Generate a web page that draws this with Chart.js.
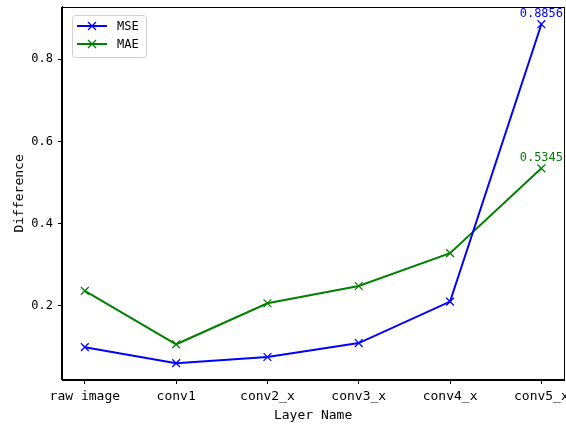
<!DOCTYPE html>
<html>
<head>
<meta charset="utf-8">
<script src="https://cdn.jsdelivr.net/npm/chart.js@4"></script>
<style>
  html, body { margin: 0; padding: 0; background: #fff; overflow: hidden; }
  #box { width: 566px; height: 425px; overflow: hidden; }
</style>
</head>
<body>
<div id="box"><canvas id="myChart" width="571" height="425"></canvas></div>
<script>
// values
const layerNames = ["raw image", "conv1", "conv2_x", "conv3_x", "conv4_x", "conv5_x"];
const mseValues = [0.099, 0.060, 0.075, 0.109, 0.210, 0.8856];
const maeValues = [0.236, 0.106, 0.206, 0.248, 0.328, 0.5345];
const yTickValues = [0.2, 0.4, 0.6, 0.8];
const yMin = 0.019;
const yMax = 0.928;

const monoFont = "'DejaVu Sans Mono', monospace";

// turn the arrays into x/y points (x = category index)
const toPoints = (vals) => vals.map((v, i) => ({ x: i, y: v }));

// draws the frame round the plot area
const framePlugin = {
  id: "frame",
  afterDraw(chart) {
    const a = chart.chartArea;
    const ctx = chart.ctx;
    ctx.save();
    ctx.strokeStyle = "#000";
    ctx.lineWidth = 1;
    ctx.strokeRect(Math.round(a.left) - 0.5, Math.round(a.top) + 0.5,
      Math.round(a.right - a.left) + 1, Math.round(a.bottom - a.top) - 1);
    ctx.restore();
  },
};

// value label over the last point of each line
const endLabelPlugin = {
  id: "endLabels",
  afterDatasetsDraw(chart) {
    const ctx = chart.ctx;
    ctx.save();
    ctx.font = "12px " + monoFont;
    ctx.textAlign = "center";
    ctx.textBaseline = "bottom";
    chart.data.datasets.forEach((ds, i) => {
      const meta = chart.getDatasetMeta(i);
      const last = meta.data[meta.data.length - 1];
      const val = ds.data[ds.data.length - 1].y;
      ctx.fillStyle = ds.borderColor;
      ctx.fillText(val.toFixed(4), last.x, last.y - 4);
    });
    ctx.restore();
  },
};

// matplotlib-like legend box in the upper left
const boxLegendPlugin = {
  id: "boxLegend",
  afterDraw(chart) {
    const ctx = chart.ctx;
    const x0 = 72, y0 = 15, w = 74, h = 42;
    ctx.save();
    ctx.fillStyle = "rgba(255,255,255,0.8)";
    ctx.strokeStyle = "#d0d0d0";
    ctx.lineWidth = 1;
    ctx.beginPath();
    ctx.roundRect(x0 + 0.5, y0 + 0.5, w, h, 3);
    ctx.fill();
    ctx.stroke();
    chart.data.datasets.forEach((ds, i) => {
      const y = 26 + i * 18;
      ctx.strokeStyle = ds.borderColor;
      ctx.lineWidth = 2;
      ctx.beginPath();
      ctx.moveTo(77, y);
      ctx.lineTo(107, y);
      ctx.stroke();
      ctx.lineWidth = 1.3;
      ctx.beginPath();
      ctx.moveTo(88, y - 4); ctx.lineTo(96, y + 4);
      ctx.moveTo(96, y - 4); ctx.lineTo(88, y + 4);
      ctx.stroke();
      ctx.fillStyle = "#000";
      ctx.font = "12px " + monoFont;
      ctx.textAlign = "left";
      ctx.textBaseline = "middle";
      ctx.fillText(ds.label, 117, y + 1);
    });
    ctx.restore();
  },
};

const ctx = document.getElementById("myChart");
const myChart = new Chart(ctx, {
  type: "line",
  data: {
    datasets: [
      {
        label: "MSE",
        data: toPoints(mseValues),
        borderColor: "#0000ff",
        backgroundColor: "#0000ff",
        borderWidth: 2,
        pointStyle: "crossRot",
        pointRadius: 5.5,
        pointBorderWidth: 1.3,
        pointBorderColor: "#0000ff",
      },
      {
        label: "MAE",
        data: toPoints(maeValues),
        borderColor: "#008000",
        backgroundColor: "#008000",
        borderWidth: 2,
        pointStyle: "crossRot",
        pointRadius: 5.5,
        pointBorderWidth: 1.3,
        pointBorderColor: "#008000",
      },
    ],
  },
  options: {
    responsive: false,
    animation: false,
    devicePixelRatio: 1,
    layout: { padding: { top: 6, right: 1, left: 0, bottom: 0 } },
    plugins: { legend: { display: false }, tooltip: { enabled: false } },
    scales: {
      x: {
        type: "linear",
        min: -0.25,
        max: 5.25,
        afterBuildTicks: (scale) => {
          scale.ticks = layerNames.map((n, i) => ({ value: i }));
        },
        afterFit: (scale) => {
          scale.height = 45;
          scale.paddingLeft = 0;
          scale.paddingRight = 0;
        },
        ticks: {
          autoSkip: false,
          maxRotation: 0,
          padding: 5,
          color: "#000",
          font: { family: monoFont, size: 13 },
          callback: (v) => layerNames[v],
        },
        grid: { drawOnChartArea: false, drawTicks: true, tickLength: 4, tickColor: "#000" },
        border: { display: true, color: "#000" },
        title: {
          display: true,
          text: "Layer Name",
          color: "#000",
          font: { family: monoFont, size: 13 },
          padding: { top: 0, bottom: 2 },
        },
      },
      y: {
        min: yMin,
        max: yMax,
        afterBuildTicks: (scale) => {
          scale.ticks = yTickValues.map((v) => ({ value: v }));
        },
        afterFit: (scale) => {
          scale.width = 62;
          scale.paddingTop = 0;
          scale.paddingBottom = 0;
        },
        ticks: {
          padding: 5,
          color: "#000",
          font: { family: monoFont, size: 12 },
          callback: (v) => v.toFixed(1),
        },
        grid: { drawOnChartArea: false, drawTicks: true, tickLength: 4, tickColor: "#000" },
        border: { display: true, color: "#000" },
        title: {
          display: true,
          text: "Difference",
          color: "#000",
          font: { family: monoFont, size: 13 },
          padding: { top: 12, bottom: 0 },
        },
      },
    },
  },
  plugins: [framePlugin, endLabelPlugin, boxLegendPlugin],
});
</script>
</body>
</html>
